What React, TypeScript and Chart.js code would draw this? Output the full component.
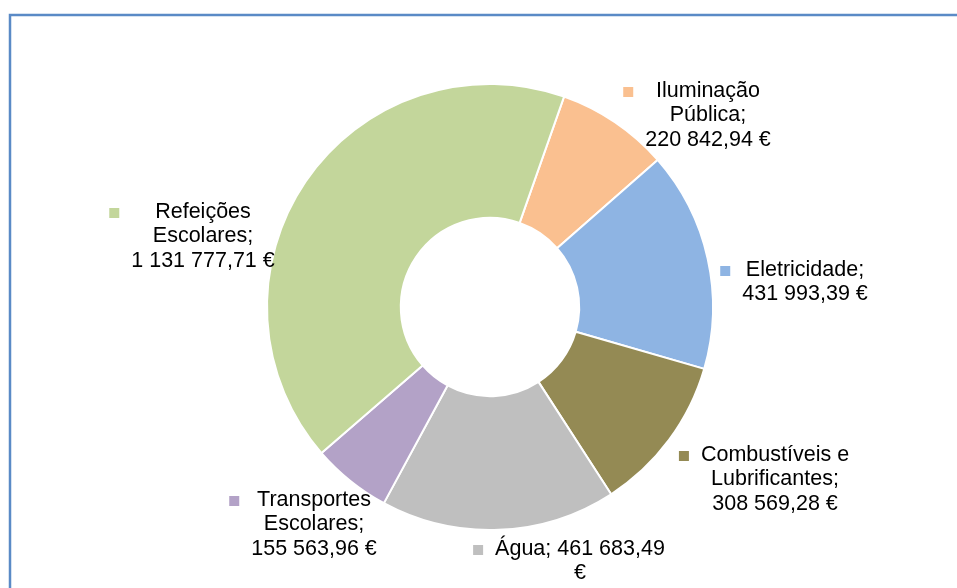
import React, { useEffect, useRef } from "react";
import { Chart, registerables } from "chart.js";

Chart.register(...registerables);

const categories = [
  "Iluminação Pública",
  "Eletricidade",
  "Combustíveis e Lubrificantes",
  "Água",
  "Transportes Escolares",
  "Refeições Escolares",
];
const values = [220842.94, 431993.39, 308569.28, 461683.49, 155563.96, 1131777.71];
const colors = ["#FAC090", "#8EB4E3", "#948A54", "#BFBFBF", "#B3A2C7", "#C3D69B"];

// label layout: centre x of text block, middle y of first line, wrap width
const labelLayout = [
  { cx: 708, y: 91, wrap: 130 },
  { cx: 805, y: 270, wrap: 130 },
  { cx: 775, y: 455, wrap: 150 },
  { cx: 580, y: 549, wrap: 172 },
  { cx: 314, y: 500, wrap: 130 },
  { cx: 203, y: 212, wrap: 150 },
];

const FONT = "21.5px 'Liberation Sans', Arial, sans-serif";
const LINE_H = 24.5;

function fmt(v: number): string {
  const [i, d] = v.toFixed(2).split(".");
  const withSep = i.replace(/\B(?=(\d{3})+(?!\d))/g, "\u00A0");
  return withSep + "," + d + " €";
}

function wrapText(ctx: CanvasRenderingContext2D, text: string, maxW: number): string[] {
  const words = text.split(" ");
  const lines: string[] = [];
  let cur = "";
  for (const w of words) {
    const test = cur ? cur + " " + w : w;
    if (cur && ctx.measureText(test).width > maxW) {
      lines.push(cur);
      cur = w;
    } else {
      cur = test;
    }
  }
  if (cur) lines.push(cur);
  return lines;
}

const framePlugin = {
  id: "frame",
  beforeDraw(chart: any) {
    const ctx = chart.ctx;
    ctx.save();
    ctx.strokeStyle = "#5A8AC6";
    ctx.lineWidth = 2.5;
    ctx.beginPath();
    ctx.moveTo(10, 588);
    ctx.lineTo(10, 15);
    ctx.lineTo(957, 15);
    ctx.stroke();
    ctx.restore();
  },
};

const labelsPlugin = {
  id: "sliceLabels",
  afterDraw(chart: any) {
    const ctx = chart.ctx;
    ctx.save();
    ctx.font = FONT;
    ctx.textAlign = "center";
    ctx.textBaseline = "middle";
    categories.forEach((name, i) => {
      const lay = labelLayout[i];
      const text = name + "; " + fmt(values[i]);
      const lines = wrapText(ctx, text, lay.wrap);
      let maxW = 0;
      lines.forEach((l) => (maxW = Math.max(maxW, ctx.measureText(l).width)));
      ctx.fillStyle = "#000000";
      lines.forEach((l, k) => ctx.fillText(l, lay.cx, lay.y + k * LINE_H));
      ctx.fillStyle = colors[i];
      const mx = lay.cx - maxW / 2 - 12 - 10;
      ctx.fillRect(mx, lay.y - 4, 10, 10);
    });
    ctx.restore();
  },
};

export default function App() {
  const ref = useRef<HTMLCanvasElement>(null);
  useEffect(() => {
    if (!ref.current) return;
    const chart = new Chart(ref.current, {
      type: "doughnut",
      data: {
        labels: categories,
        datasets: [
          {
            data: values,
            backgroundColor: colors,
            borderColor: "#FFFFFF",
            borderWidth: 2,
          },
        ],
      },
      options: {
        responsive: false,
        animation: false,
        cutout: "40%",
        rotation: 19.4,
        layout: { padding: { left: 266, right: 243, top: 83, bottom: 57 } },
        plugins: {
          legend: { display: false },
          tooltip: { enabled: false },
        },
      },
      plugins: [framePlugin, labelsPlugin],
    });
    return () => chart.destroy();
  }, []);
  return (
    <div style={{ position: "fixed", left: 0, top: 0, width: 957, height: 588, background: "#fff" }}>
      <canvas ref={ref} width={957} height={588} style={{ width: 957, height: 588, display: "block" }} />
    </div>
  );
}
